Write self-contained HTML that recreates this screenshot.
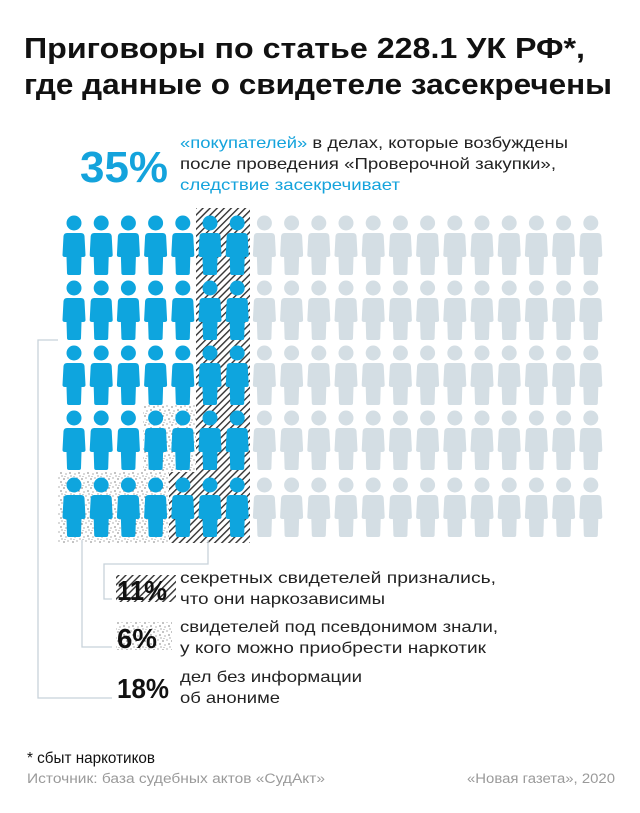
<!DOCTYPE html>
<html><head><meta charset="utf-8"><style>
html,body{margin:0;padding:0;background:#fff;}
svg{display:block;font-family:"Liberation Sans",sans-serif;}
</style></head><body>
<svg width="640" height="813" viewBox="0 0 640 813" xmlns="http://www.w3.org/2000/svg">
<defs>
<pattern id="hatch" width="5" height="5" patternUnits="userSpaceOnUse" patternTransform="rotate(45)">
<rect width="5" height="5" fill="#fff"/><rect x="0" y="0" width="1.4" height="5" fill="#333"/>
</pattern>
<pattern id="dots" width="9" height="9" patternUnits="userSpaceOnUse">
<rect width="9" height="9" fill="#fff"/>
<circle cx="1" cy="2" r="0.6" fill="#333"/><circle cx="5" cy="1" r="0.5" fill="#333"/>
<circle cx="7" cy="5" r="0.6" fill="#333"/><circle cx="3" cy="6" r="0.5" fill="#333"/>
<circle cx="8" cy="8" r="0.5" fill="#333"/><circle cx="2" cy="8.5" r="0.4" fill="#333"/>
</pattern>
<g id="p">
<circle cx="0" cy="0" r="7.5"/>
<path d="M-7,10 H7 Q10,10 10.5,13 L11.5,32 Q11.5,34 9,34 L7.5,34 L7,50 Q7,52 5,52 H-5 Q-7,52 -7,50 L-7.5,34 L-9,34 Q-11.5,34 -11.5,32 L-10.5,13 Q-10,10 -7,10 Z"/>
</g>
</defs>

<text x="24" y="58" font-size="29" font-weight="bold" fill="#111" textLength="561" lengthAdjust="spacingAndGlyphs">Приговоры по статье 228.1 УК РФ*,</text>
<text x="24" y="94" font-size="29" font-weight="bold" fill="#111" textLength="588" lengthAdjust="spacingAndGlyphs">где данные о свидетеле засекречены</text>

<text x="80" y="182" font-size="44" font-weight="bold" fill="#14a3dc" textLength="88" lengthAdjust="spacingAndGlyphs">35%</text>
<text x="180" y="148" font-size="16" textLength="388" lengthAdjust="spacingAndGlyphs"><tspan fill="#14a3dc">«покупателей»</tspan><tspan fill="#222"> в делах, которые возбуждены</tspan></text>
<text x="180" y="169" font-size="16" fill="#222" textLength="376" lengthAdjust="spacingAndGlyphs">после проведения «Проверочной закупки»,</text>
<text x="180" y="190" font-size="16" fill="#14a3dc" textLength="220" lengthAdjust="spacingAndGlyphs">следствие засекречивает</text>

<rect x="196" y="208" width="54" height="335" fill="url(#hatch)"/>
<rect x="169" y="472" width="27" height="71" fill="url(#hatch)"/>
<rect x="143" y="405" width="53" height="67" fill="url(#dots)"/>
<rect x="58" y="472" width="111" height="71" fill="url(#dots)"/>

<g stroke="#c8d2da" stroke-width="1.3" fill="none">
<path d="M58,340 H38 V698 H112"/>
<path d="M82,540 V647 H112"/>
<path d="M208,540 V564 H104 V599 H112"/>
</g>

<g id="grid"></g>

<rect x="116" y="575" width="60" height="27" fill="url(#hatch)"/>
<rect x="116" y="622" width="56" height="28" fill="url(#dots)"/>

<text x="117" y="600" font-size="28" font-weight="bold" fill="#111" textLength="50" lengthAdjust="spacingAndGlyphs">11%</text>
<text x="180" y="583" font-size="16" fill="#222" textLength="316" lengthAdjust="spacingAndGlyphs">секретных свидетелей признались,</text>
<text x="180" y="604" font-size="16" fill="#222" textLength="205" lengthAdjust="spacingAndGlyphs">что они наркозависимы</text>
<text x="117" y="648" font-size="28" font-weight="bold" fill="#111" textLength="40" lengthAdjust="spacingAndGlyphs">6%</text>
<text x="180" y="632" font-size="16" fill="#222" textLength="318" lengthAdjust="spacingAndGlyphs">свидетелей под псевдонимом знали,</text>
<text x="180" y="653" font-size="16" fill="#222" textLength="306" lengthAdjust="spacingAndGlyphs">у кого можно приобрести наркотик</text>
<text x="117" y="698" font-size="28" font-weight="bold" fill="#111" textLength="52" lengthAdjust="spacingAndGlyphs">18%</text>
<text x="180" y="682" font-size="16" fill="#222" textLength="182" lengthAdjust="spacingAndGlyphs">дел без информации</text>
<text x="180" y="703" font-size="16" fill="#222" textLength="100" lengthAdjust="spacingAndGlyphs">об анониме</text>

<text x="27" y="763" font-size="16" fill="#111" textLength="128" lengthAdjust="spacingAndGlyphs">* сбыт наркотиков</text>
<text x="27" y="783" font-size="13.5" fill="#9a9a9a" textLength="298" lengthAdjust="spacingAndGlyphs">Источник: база судебных актов «СудАкт»</text>
<text x="615" y="783" font-size="13.5" fill="#9a9a9a" text-anchor="end" textLength="148" lengthAdjust="spacingAndGlyphs">«Новая газета», 2020</text>
</svg>
<script>
var g=document.getElementById('grid'),ns="http://www.w3.org/2000/svg";
var rows=[223,288,353,418,485];
for(var r=0;r<5;r++)for(var c=0;c<20;c++){
var u=document.createElementNS(ns,'use');
u.setAttribute('href','#p');
u.setAttribute('transform','translate('+(74+27.2*c)+','+rows[r]+')');
u.setAttribute('fill',c<7?'#0ea5de':'#d4dee4');
g.appendChild(u);}
</script>
</body></html>
